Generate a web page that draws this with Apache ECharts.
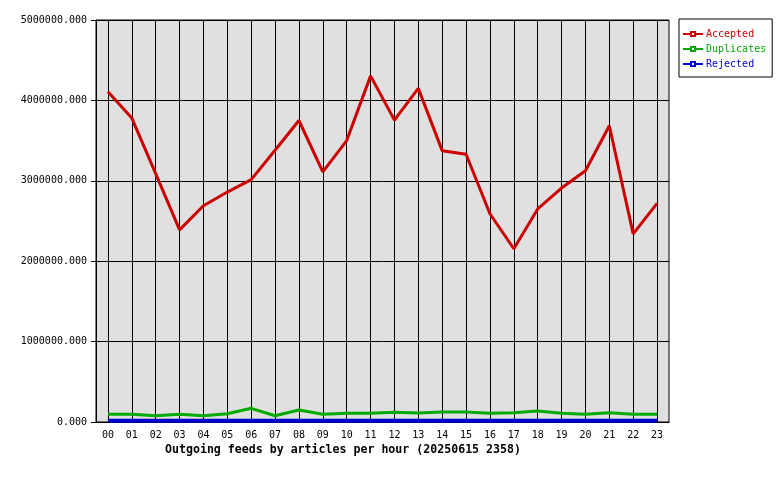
<!DOCTYPE html>
<html>
<head>
<meta charset="utf-8">
<script src="https://cdn.jsdelivr.net/npm/echarts@6/dist/echarts.min.js"></script>
<style>
  html, body { margin: 0; padding: 0; background: #fff; }
  #chart { width: 780px; height: 480px; }
</style>
</head>
<body>
<div id="chart"></div>
<script>
// hours of the day
const hours = ['00', '01', '02', '03', '04', '05', '06', '07', '08', '09', '10', '11',
               '12', '13', '14', '15', '16', '17', '18', '19', '20', '21', '22', '23']

const accepted = [4107000, 3780000, 3090000, 2390000, 2690000, 2860000, 3015000, 3380000,
                  3750000, 3110000, 3500000, 4305000, 3755000, 4150000, 3375000, 3330000,
                  2590000, 2155000, 2650000, 2910000, 3125000, 3685000, 2340000, 2720000]

const duplicates = [96000, 96000, 78000, 96000, 78000, 103000, 170000, 78000,
                    149000, 96000, 108000, 108000, 120000, 113000, 124000, 124000,
                    108000, 115000, 137000, 108000, 96000, 115000, 96000, 96000]

const rejected = [15000, 15000, 15000, 15000, 15000, 15000, 15000, 15000,
                  15000, 15000, 15000, 15000, 15000, 15000, 15000, 15000,
                  15000, 15000, 15000, 15000, 15000, 15000, 15000, 15000]

const yTicks = [0, 1000000, 2000000, 3000000, 4000000, 5000000]

const mono = 'DejaVu Sans Mono'

let option = {
    backgroundColor: '#fff',
    animation: false,
    title: {
        text: 'Outgoing feeds by articles per hour (20250615 2358)',
        left: 165,
        top: 444,
        padding: 0,
        textStyle: { fontFamily: mono, fontSize: 11.6, fontWeight: 'bold', color: '#000' }
    },
    legend: {
        orient: 'vertical',
        left: 679,
        top: 19,
        padding: [9, 6, 7, 3],
        itemWidth: 20,
        itemHeight: 5,
        itemGap: 3,
        backgroundColor: '#fff',
        borderColor: '#000',
        borderWidth: 1,
        borderRadius: 0,
        textStyle: { fontFamily: mono, fontSize: 10, padding: [0, 0, 0, -2], lineHeight: 12 },
        data: [
            { name: 'Accepted', textStyle: { color: '#cc0000' } },
            { name: 'Duplicates', textStyle: { color: '#00aa00' } },
            { name: 'Rejected', textStyle: { color: '#0000cc' } }
        ]
    },
    grid: {
        left: 96,
        right: 111,
        top: 20,
        bottom: 58,
        show: true,
        backgroundColor: '#e0e0e0',
        borderColor: '#000',
        borderWidth: 1
    },
    xAxis: {
        type: 'category',
        data: hours,
        boundaryGap: true,
        axisLine: { lineStyle: { color: '#000', width: 1 } },
        axisTick: { alignWithLabel: true, length: 5, lineStyle: { color: '#000' } },
        axisLabel: { fontFamily: mono, fontSize: 10, color: '#000', margin: 8, interval: 0 },
        splitLine: { show: false }
    },
    yAxis: {
        type: 'value',
        min: 0,
        max: yTicks[yTicks.length - 1],
        interval: 1000000,
        axisLine: { show: true, lineStyle: { color: '#000', width: 1 } },
        axisTick: { show: true, length: 5, lineStyle: { color: '#000' } },
        axisLabel: {
            fontFamily: mono, fontSize: 10, color: '#000', margin: 9,
            formatter: v => v.toFixed(3)
        },
        splitLine: { show: true, lineStyle: { color: '#000', width: 1, type: 'solid' } }
    },
    series: [
        {
            name: 'Accepted',
            type: 'line',
            data: accepted,
            symbol: 'emptyRect',
            symbolSize: 4,
            showSymbol: false,
            itemStyle: { color: '#cc0000' },
            lineStyle: { color: '#cc0000', width: 3 },
            z: 3,
            markLine: {
                silent: true,
                symbol: ['none', 'none'],
                label: { show: false },
                lineStyle: { color: '#000', width: 1, type: 'solid' },
                z: 1,
                animation: false,
                data: hours.map(h => ({ xAxis: h }))
            }
        },
        {
            name: 'Duplicates',
            type: 'line',
            data: duplicates,
            symbol: 'emptyRect',
            symbolSize: 4,
            showSymbol: false,
            itemStyle: { color: '#00aa00' },
            lineStyle: { color: '#00aa00', width: 3 },
            z: 4
        },
        {
            name: 'Rejected',
            type: 'line',
            data: rejected,
            symbol: 'emptyRect',
            symbolSize: 4,
            showSymbol: false,
            itemStyle: { color: '#0000cc' },
            lineStyle: { color: '#0000cc', width: 4 },
            z: 5
        }
    ]
}

let chart = echarts.init(document.getElementById('chart'))
chart.setOption(option)
</script>
</body>
</html>
